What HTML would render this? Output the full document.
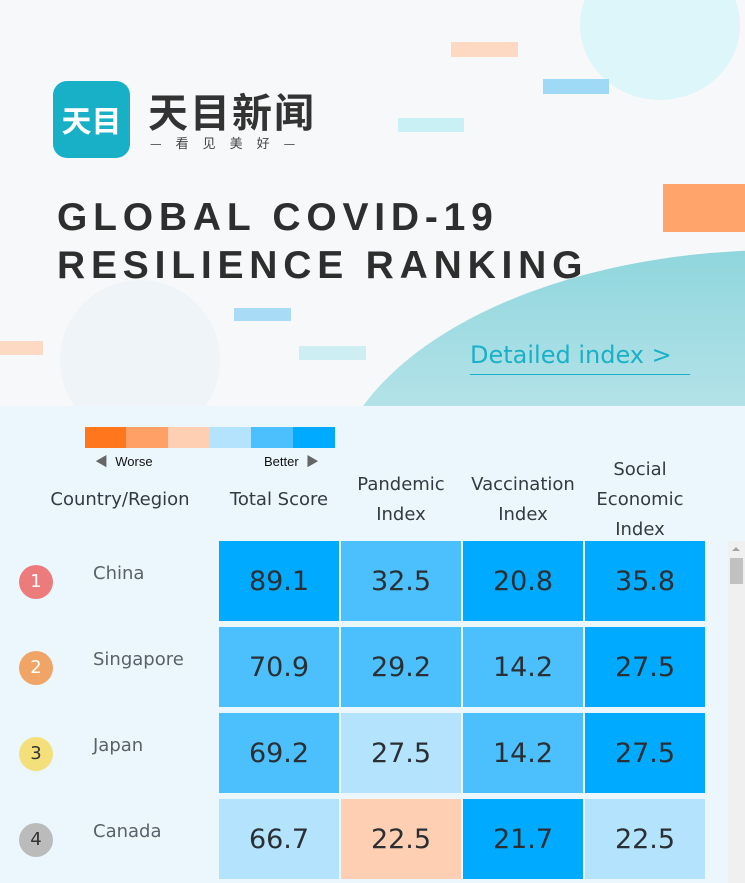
<!DOCTYPE html>
<html><head><meta charset="utf-8"><style>
body{margin:0;width:745px;height:883px;overflow:hidden;position:relative;font-family:"Liberation Sans","Noto Sans CJK SC",sans-serif;background:#ebf7fd}
.hdr{position:absolute;left:0;top:0;width:745px;height:406px;background:#f7f8f9;overflow:hidden}
.abs{position:absolute}
.c{position:absolute;width:120px;height:80px;font-size:27px;color:#2a2f33;text-align:center;line-height:82px;font-family:"DejaVu Sans",sans-serif}
.d{background:#00aaff}.m{background:#4cc0fd}.l{background:#b4e4fd}.p{background:#ffcfb3}
.h{position:absolute;font-size:18px;color:#333a40;text-align:center;line-height:30px;font-family:"DejaVu Sans",sans-serif}
.n{position:absolute;left:93px;font-size:18px;color:#5a6268;font-family:"DejaVu Sans",sans-serif}
.r{position:absolute;left:19px;width:34px;height:34px;border-radius:50%;color:#fff;text-align:center;line-height:34px;font-size:18px;font-family:"DejaVu Sans",sans-serif}
</style></head><body>
<div class="hdr">
 <div class="abs" style="left:580px;top:-50px;width:160px;height:150px;border-radius:50%;background:#dcf6f9"></div>
 <div class="abs" style="left:60px;top:280px;width:160px;height:160px;border-radius:50%;background:#eef4f8"></div>
 <div class="abs" style="left:330px;top:250px;width:900px;height:500px;border-radius:50%;background:linear-gradient(180deg,#8fd6dd,#d4eef2 60%)"></div>
 <div class="abs" style="left:451px;top:42px;width:67px;height:15px;background:#fdd8c2"></div>
 <div class="abs" style="left:543px;top:79px;width:66px;height:15px;background:#9ed9f6"></div>
 <div class="abs" style="left:398px;top:118px;width:66px;height:14px;background:#c9f0f5"></div>
 <div class="abs" style="left:663px;top:184px;width:82px;height:48px;background:#ffa46b"></div>
 <div class="abs" style="left:234px;top:308px;width:57px;height:13px;background:#a8dcf6"></div>
 <div class="abs" style="left:299px;top:346px;width:67px;height:14px;background:#cdeff4"></div>
 <div class="abs" style="left:0;top:341px;width:43px;height:14px;background:#fdd8c2"></div>
 <div class="abs" style="left:53px;top:81px;width:77px;height:77px;border-radius:14px;background:#18b0c6;color:#fff;font-size:30px;font-weight:bold;line-height:77px;text-align:center;font-family:'Noto Sans CJK SC',sans-serif">天目</div>
 <div class="abs" style="left:148px;top:84px;font-size:40px;font-weight:bold;color:#333;letter-spacing:2px;font-family:'Noto Sans CJK SC',sans-serif;line-height:52px">天目新闻</div>
 <div class="abs" style="left:150px;top:133px;font-size:13px;color:#444;letter-spacing:14px;font-family:'Noto Sans CJK SC',sans-serif">—看见美好—</div>
 <div class="abs" style="left:57px;top:194px;font-size:39px;font-weight:bold;color:#2e2e2e;letter-spacing:5.8px;line-height:48px;white-space:nowrap">GLOBAL COVID-19<br>RESILIENCE RANKING</div>
 <div class="abs" style="left:470px;top:338px;font-size:24px;color:#1ab0c8;font-family:'DejaVu Sans',sans-serif;line-height:34px;border-bottom:1.5px solid #1ab0c8;width:220px;padding-bottom:2px;white-space:nowrap">Detailed index &gt;</div>
</div>
<div class="abs" style="left:85px;top:427px;width:41px;height:21px;background:#ff761d"></div>
<div class="abs" style="left:126px;top:427px;width:42px;height:21px;background:#ffa066"></div>
<div class="abs" style="left:168px;top:427px;width:42px;height:21px;background:#ffcfb3"></div>
<div class="abs" style="left:210px;top:427px;width:41px;height:21px;background:#b4e4fd"></div>
<div class="abs" style="left:251px;top:427px;width:42px;height:21px;background:#4cc0fd"></div>
<div class="abs" style="left:293px;top:427px;width:42px;height:21px;background:#00aaff"></div>
<div class="abs" style="left:95px;top:451px;font-size:13px;color:#111"><span style="color:#666">◀</span>&nbsp; Worse</div>
<div class="abs" style="left:264px;top:451px;font-size:13px;color:#111">Better &nbsp;<span style="color:#666">▶</span></div>
<div class="h" style="left:30px;top:485px;width:180px">Country/Region</div>
<div class="h" style="left:219px;top:485px;width:120px">Total Score</div>
<div class="h" style="left:341px;top:470px;width:120px">Pandemic<br>Index</div>
<div class="h" style="left:460px;top:470px;width:126px">Vaccination<br>Index</div>
<div class="h" style="left:585px;top:455px;width:110px">Social<br>Economic<br>Index</div>

<div class="r" style="top:565px;background:#ec7b7b">1</div><div class="n" style="top:563px">China</div>
<div class="r" style="top:651px;background:#f0a466">2</div><div class="n" style="top:649px">Singapore</div>
<div class="r" style="top:737px;background:#f4e07a;color:#333">3</div><div class="n" style="top:735px">Japan</div>
<div class="r" style="top:823px;background:#bbbbbb;color:#333">4</div><div class="n" style="top:821px">Canada</div>

<div class="c d" style="left:219px;top:541px">89.1</div><div class="c m" style="left:341px;top:541px">32.5</div><div class="c d" style="left:463px;top:541px">20.8</div><div class="c d" style="left:585px;top:541px">35.8</div>
<div class="c m" style="left:219px;top:627px">70.9</div><div class="c m" style="left:341px;top:627px">29.2</div><div class="c m" style="left:463px;top:627px">14.2</div><div class="c d" style="left:585px;top:627px">27.5</div>
<div class="c m" style="left:219px;top:713px">69.2</div><div class="c l" style="left:341px;top:713px">27.5</div><div class="c m" style="left:463px;top:713px">14.2</div><div class="c d" style="left:585px;top:713px">27.5</div>
<div class="c l" style="left:219px;top:799px">66.7</div><div class="c p" style="left:341px;top:799px">22.5</div><div class="c d" style="left:463px;top:799px">21.7</div><div class="c l" style="left:585px;top:799px">22.5</div>

<div class="abs" style="left:728px;top:541px;width:17px;height:342px;background:#f0f0f0"></div>
<div class="abs" style="left:732px;top:547px;width:0;height:0;border-left:4px solid transparent;border-right:4px solid transparent;border-bottom:4px solid #a3a3a3"></div>
<div class="abs" style="left:730px;top:558px;width:13px;height:26px;background:#c1c1c1"></div>
</body></html>
